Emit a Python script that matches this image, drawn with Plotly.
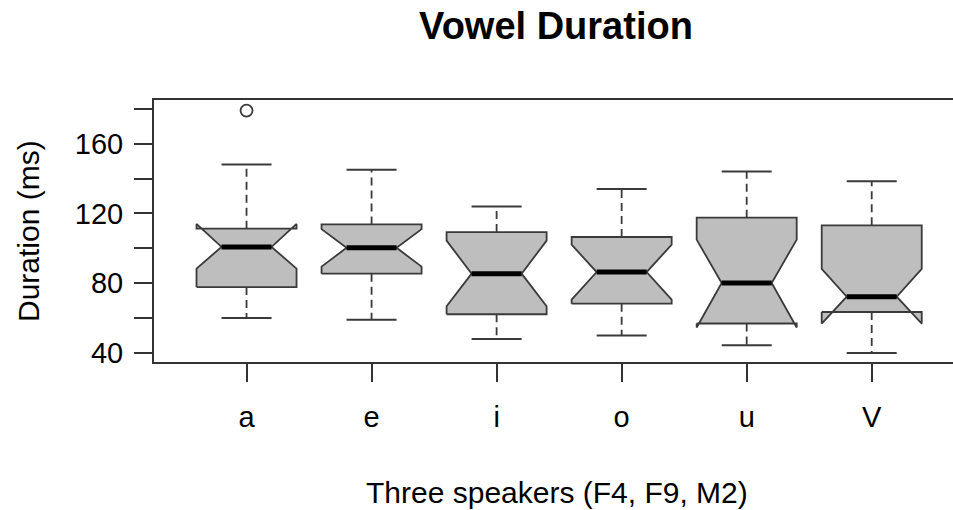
import plotly.graph_objects as go

# Vowel duration summary statistics (ms), pooled over three speakers
vowels = ["a", "e", "i", "o", "u", "V"]
lower_whisker = [60, 59, 48, 50, 44.5, 40]
q1 = [77.8, 85.5, 62.2, 68.3, 56.9, 63.5]
notch_lo = [88.4, 89.5, 66.8, 70.6, 54.6, 56.9]
median = [100.8, 100.3, 85.5, 86.4, 80.1, 72.3]
notch_hi = [114.0, 111.0, 104.4, 102.1, 105.0, 88.2]
q3 = [111.3, 113.7, 109.3, 106.5, 117.6, 113.2]
upper_whisker = [148, 145, 124, 134, 144, 138.5]
outlier_vowel = ["a"]
outlier_value = [179]

y_tick_values = [40, 60, 80, 100, 120, 140, 160, 180]
y_tick_labels = ["40", "", "80", "", "120", "", "160", ""]

HALF = 0.4          # half box width (boxwex 0.8)
NOTCH = 0.5         # notch width as a fraction of the box
CAP = 0.2           # half staple width
EDGE = "#3a3a3a"
FILL = "#bebebe"
FONT = "Liberation Sans, Arial, sans-serif"

pos = list(range(1, len(vowels) + 1))

# dashed whiskers
wx, wy = [], []
for p, a, b, c, d in zip(pos, q3, upper_whisker, q1, lower_whisker):
    wx += [p, p, None, p, p, None]
    wy += [a, b, None, c, d, None]

# whisker staples
cx, cy = [], []
for p, hi, lo in zip(pos, upper_whisker, lower_whisker):
    cx += [p - CAP, p + CAP, None, p - CAP, p + CAP, None]
    cy += [hi, hi, None, lo, lo, None]

# notched box outlines
bx, by = [], []
offs = [-1, 1, 1, NOTCH, 1, 1, -1, -1, -NOTCH, -1, -1]
for p, a, lo, m, hi, b in zip(pos, q1, notch_lo, median, notch_hi, q3):
    bx += [p + HALF * o for o in offs] + [None]
    by += [a, a, lo, m, hi, b, b, hi, m, lo, a, None]

# median bars
mx, my = [], []
for p, m in zip(pos, median):
    mx += [p - HALF * NOTCH, p + HALF * NOTCH, None]
    my += [m, m, None]

fig = go.Figure()
fig.add_trace(go.Scatter(x=wx, y=wy, mode="lines", hoverinfo="skip",
                         line=dict(color=EDGE, width=1.8, dash="8px,5px")))
fig.add_trace(go.Scatter(x=cx, y=cy, mode="lines", hoverinfo="skip",
                         line=dict(color=EDGE, width=2)))
fig.add_trace(go.Scatter(x=bx, y=by, mode="lines", fill="toself",
                         fillcolor=FILL, hoverinfo="skip",
                         line=dict(color=EDGE, width=1.8)))
fig.add_trace(go.Scatter(x=mx, y=my, mode="lines", hoverinfo="skip",
                         line=dict(color="black", width=5)))
fig.add_trace(go.Scatter(x=[vowels.index(v) + 1 for v in outlier_vowel],
                         y=outlier_value, mode="markers", hoverinfo="skip",
                         marker=dict(symbol="circle-open", size=12,
                                     color=EDGE, line=dict(width=1.8))))

fig.update_layout(
    width=953, height=510,
    margin=dict(l=154, r=0, t=100, b=148),
    paper_bgcolor="white", plot_bgcolor="white",
    showlegend=False,
    title=dict(text="<b>Vowel Duration</b>", x=556 / 953, xref="container",
               xanchor="center", y=1 - 26 / 510, yref="container",
               yanchor="middle",
               font=dict(family=FONT, size=38, color="black")),
    annotations=[
        dict(text="Three speakers (F4, F9, M2)", xref="paper", yref="paper",
             x=(557 - 154) / 799, y=-(492 - 362) / 262, xanchor="center",
             yanchor="middle", showarrow=False,
             font=dict(family=FONT, size=30, color="black")),
        dict(text="Duration (ms)", xref="paper", yref="paper",
             x=-(154 - 28) / 799, y=0.5, xanchor="center", yanchor="middle",
             textangle=-90, showarrow=False,
             font=dict(family=FONT, size=30, color="black")),
    ],
)
fig.update_xaxes(range=[0.26, 6.65], tickvals=pos, ticktext=vowels,
                 showgrid=False, zeroline=False, showline=True, mirror=True,
                 linecolor="#333333", linewidth=2, ticks="outside",
                 ticklen=18, tickwidth=2, tickcolor="#333333",
                 ticklabelstandoff=10,
                 tickfont=dict(family=FONT, size=29, color="black"))
fig.update_yaxes(range=[34.84, 185.04], tickvals=y_tick_values,
                 ticktext=y_tick_labels, showgrid=False, zeroline=False,
                 showline=True, linecolor="#333333", linewidth=2,
                 ticks="outside", ticklen=18, tickwidth=2,
                 tickcolor="#333333", ticklabelstandoff=5,
                 tickfont=dict(family=FONT, size=29, color="black"))

fig.write_html("out.html")
